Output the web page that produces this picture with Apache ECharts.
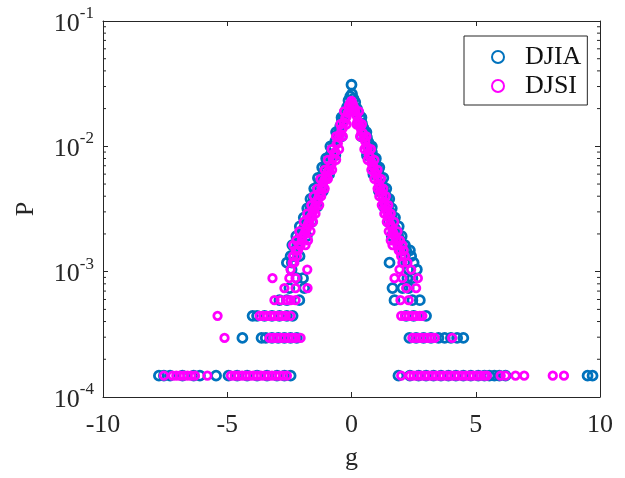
<!DOCTYPE html>
<html>
<head>
<meta charset="utf-8">
<script src="https://cdn.jsdelivr.net/npm/echarts@6/dist/echarts.min.js"></script>
<style>html,body{margin:0;padding:0;background:#fff}#chart{width:625px;height:478px}</style>
</head>
<body>
<div id="chart"></div>
<script>
// x tick labels and y tick exponents
const xTickLabels = ['-10', '-5', '0', '5', '10'];
const yTickExponents = ['-4', '-3', '-2', '-1'];
const minorTickValues = [2e-4,3e-4,4e-4,5e-4,6e-4,7e-4,8e-4,9e-4,2e-3,3e-3,4e-3,5e-3,6e-3,7e-3,8e-3,9e-3,2e-2,3e-2,4e-2,5e-2,6e-2,7e-2,8e-2,9e-2];

// DJIA: [g, P]
const djiaPoints = [
[0.00,0.0310],[0.02,0.0262],[-0.05,0.0250],[0.08,0.0240],[-0.12,0.0232],[0.15,0.0225],[-0.18,0.0205],[0.22,0.0200],[-0.25,0.0190],[0.28,0.0185],
[-0.32,0.0172],[0.35,0.0170],[-0.38,0.0160],[0.42,0.0152],[-0.45,0.0145],[0.48,0.0140],[-0.52,0.0128],[0.55,0.0128],[-0.58,0.0120],[0.62,0.0118],
[-0.65,0.0110],[0.68,0.0108],[-0.72,0.0100],[0.75,0.0098],[-0.78,0.0094],[0.82,0.0090],[-0.85,0.0085],[0.88,0.0082],[-0.92,0.0078],[0.95,0.0075],
[-0.98,0.0072],[1.02,0.0068],[-1.05,0.0067],[1.08,0.0062],[-1.12,0.0062],[1.15,0.0056],[-1.18,0.0058],[1.22,0.0050],[-1.25,0.0053],[1.28,0.0046],
[-1.32,0.0049],[1.35,0.0042],[-1.38,0.0045],[1.42,0.0038],[-1.45,0.0042],[1.48,0.0034],[-1.52,0.0038],[1.55,0.0030],[-1.58,0.0035],[1.62,0.0027],
[-1.65,0.0032],[1.68,0.0025],[-1.72,0.0029],[1.75,0.0022],[-1.78,0.0026],[1.82,0.0020],[-1.85,0.0024],[1.88,0.00192],[-1.92,0.0022],[1.95,0.00178],
[-1.98,0.00207],[2.02,0.00163],[-2.05,0.00192],[2.08,0.00148],[-2.12,0.00178],[2.15,0.00133],[-2.18,0.00163],[-2.25,0.00148],[-2.32,0.00133],[-2.40,0.00118],
[-0.40,0.0170],[-0.62,0.0130],[-0.85,0.0100],[-1.02,0.0080],[-1.18,0.0068],[-1.35,0.0056],[-1.50,0.0046],[-1.65,0.0038],[-1.78,0.0032],[-1.92,0.0027],
[-2.08,0.0023],[-2.22,0.00192],[-2.38,0.00163],
[-0.40,0.0120],[-0.65,0.0085],[-0.90,0.0060],[-1.15,0.0044],[-1.38,0.0033],[-1.60,0.0025],[-1.80,0.00192],
[0.40,0.0170],[0.60,0.0130],[0.82,0.0100],[0.98,0.0080],[1.12,0.0068],[1.28,0.0056],[1.40,0.0046],[1.52,0.0038],[1.62,0.0032],[1.75,0.0027],
[1.90,0.0023],[2.02,0.00192],[2.15,0.00163],
[0.40,0.0120],[0.62,0.0085],[0.88,0.0060],[1.10,0.0044],[1.30,0.0033],[1.48,0.0025],[1.62,0.00192],
[-2.09,0.00133],[-2.45,0.00133],[-2.60,0.00118],[-2.41,0.00104],[-2.20,0.000888],[-1.95,0.000888],[-2.50,0.00074],[-1.90,0.00074],
[-2.10,0.000592],[-2.60,0.000592],[-2.90,0.000592],
[-3.98,0.000444],[-3.80,0.000444],[-3.50,0.000444],[-3.20,0.000444],[-2.90,0.000444],[-2.60,0.000444],[-2.37,0.000444],
[-4.39,0.000296],[-3.62,0.000296],[-3.45,0.000296],[-3.20,0.000296],[-2.95,0.000296],[-2.70,0.000296],[-2.45,0.000296],[-2.20,0.000296],
[-7.75,0.000148],[-7.55,0.000148],[-7.30,0.000148],[-6.80,0.000148],[-6.35,0.000148],[-6.10,0.000148],[-5.45,0.000148],[-4.95,0.000148],
[-4.60,0.000148],[-4.20,0.000148],[-3.80,0.000148],[-3.40,0.000148],[-3.00,0.000148],[-2.70,0.000148],[-2.45,0.000148],
[2.20,0.00148],[2.35,0.00148],[2.10,0.00133],[2.40,0.00133],[1.53,0.00118],[2.20,0.00118],[2.50,0.00118],[2.30,0.00104],[2.63,0.00104],
[2.25,0.000888],[2.45,0.000888],[1.65,0.00074],[2.05,0.00074],[2.30,0.00074],[1.73,0.000592],[2.45,0.000592],[2.75,0.000592],
[2.20,0.000444],[2.50,0.000444],[3.00,0.000444],
[2.33,0.000296],[2.60,0.000296],[2.90,0.000296],[3.20,0.000296],[3.50,0.000296],[3.75,0.000296],[4.00,0.000296],[4.25,0.000296],[4.50,0.000296],
[1.89,0.000148],[2.35,0.000148],[2.70,0.000148],[3.00,0.000148],[3.30,0.000148],[3.60,0.000148],[3.90,0.000148],[4.20,0.000148],[4.50,0.000148],
[4.80,0.000148],[5.10,0.000148],[5.35,0.000148],[5.55,0.000148],[5.75,0.000148],[5.95,0.000148],[6.20,0.000148],[9.50,0.000148],[9.70,0.000148]
];

// DJSI: [g, P]
const djsiPoints = [
[0.00,0.0230],[0.05,0.0218],[-0.05,0.0221],[0.10,0.0205],[-0.10,0.0212],[0.15,0.0190],[-0.15,0.0185],[0.20,0.0176],[-0.20,0.0172],[0.25,0.0160],
[-0.25,0.0168],[0.30,0.0150],[-0.30,0.0155],[0.35,0.0142],[-0.35,0.0140],[0.40,0.0130],[-0.40,0.0138],[0.45,0.0128],[-0.45,0.0125],[0.50,0.0118],
[-0.50,0.0119],[0.55,0.0110],[-0.55,0.0106],[0.60,0.0100],[-0.60,0.0104],[0.65,0.0096],[-0.65,0.0090],[0.70,0.0085],[-0.70,0.0088],[0.75,0.0082],
[-0.75,0.0080],[0.80,0.0074],[-0.80,0.0072],[0.85,0.0070],[-0.85,0.0069],[0.90,0.0068],[-0.90,0.0064],[0.95,0.0062],[-0.95,0.0063],[1.00,0.0060],
[-1.00,0.0058],[1.05,0.0056],[-1.05,0.0055],[1.10,0.0050],[-1.10,0.0053],[1.15,0.0047],[-1.15,0.0049],[1.20,0.0043],[-1.20,0.0046],[1.25,0.0040],
[-1.25,0.0043],[1.30,0.0036],[-1.30,0.0041],[1.35,0.0034],[-1.35,0.0038],[1.40,0.0031],[-1.40,0.0036],[1.45,0.0029],[-1.45,0.0034],[1.50,0.0027],
[-1.50,0.0032],[1.55,0.0024],[-1.55,0.0030],[1.60,0.0023],[-1.60,0.0028],[1.65,0.0021],[-1.65,0.0027],[1.70,0.0020],[-1.70,0.0025],[1.75,0.0019],
[-1.75,0.0024],[1.80,0.00178],[-1.80,0.0022],[1.85,0.00163],[-1.85,0.0021],[1.90,0.00148],[-1.90,0.0020],[1.95,0.00148],[-1.95,0.00192],[2.00,0.00133],
[-2.00,0.00178],[2.05,0.00118],[-2.05,0.00163],[2.10,0.00148],[-2.10,0.00163],[-2.15,0.00148],[-2.20,0.00133],[-2.25,0.00148],[-2.30,0.00118],[-2.35,0.00133],
[-0.30,0.0190],[-0.45,0.0150],[-0.62,0.0120],[-0.80,0.0095],[-0.95,0.0078],[-1.08,0.0065],[-1.25,0.0055],[-1.38,0.0046],[-1.52,0.0040],[-1.62,0.0034],
[-1.78,0.0029],[-1.92,0.0025],[-2.10,0.0021],[-2.22,0.00178],[-2.35,0.00163],
[-0.05,0.0190],[-0.20,0.0150],[-0.35,0.0120],[-0.50,0.0095],[-0.62,0.0078],[-0.78,0.0065],[-0.95,0.0055],[-1.08,0.0046],[-1.22,0.0040],[-1.30,0.0034],
[-1.45,0.0029],[-1.55,0.0025],[-1.65,0.0021],[-1.75,0.00178],[-1.85,0.00163],
[0.30,0.0190],[0.42,0.0150],[0.60,0.0120],[0.78,0.0095],[0.92,0.0078],[1.05,0.0065],[1.18,0.0055],[1.28,0.0046],[1.38,0.0040],[1.48,0.0034],
[1.58,0.0029],[1.72,0.0025],[1.85,0.0021],[1.95,0.00178],[2.05,0.00163],
[0.08,0.0190],[0.20,0.0150],[0.35,0.0120],[0.52,0.0095],[0.65,0.0078],[0.80,0.0065],[0.92,0.0055],[1.05,0.0046],[1.12,0.0040],[1.22,0.0034],
[1.32,0.0029],[1.42,0.0025],[1.50,0.0021],[1.58,0.00178],[1.65,0.00163],
[-2.37,0.00118],[-2.45,0.00104],[-1.78,0.00104],[-3.18,0.000888],[-2.50,0.000888],[-2.25,0.000888],[-2.70,0.00074],[-2.25,0.00074],[-1.77,0.00074],
[-3.10,0.000592],[-2.85,0.000592],[-2.62,0.000592],[-2.45,0.000592],[-2.25,0.000592],
[-5.39,0.000444],[-3.70,0.000444],[-3.55,0.000444],[-3.40,0.000444],[-3.25,0.000444],[-3.10,0.000444],[-2.95,0.000444],[-2.80,0.000444],[-2.65,0.000444],[-2.45,0.000444],
[-5.11,0.000296],[-3.30,0.000296],[-3.15,0.000296],[-3.00,0.000296],[-2.85,0.000296],[-2.70,0.000296],[-2.55,0.000296],[-2.40,0.000296],[-2.25,0.000296],[-2.05,0.000296],
[-7.55,0.000148],[-7.20,0.000148],[-7.05,0.000148],[-6.90,0.000148],[-6.75,0.000148],[-6.60,0.000148],[-6.45,0.000148],[-6.30,0.000148],[-5.80,0.000148],
[-4.85,0.000148],[-4.70,0.000148],[-4.55,0.000148],[-4.40,0.000148],[-4.25,0.000148],[-4.10,0.000148],[-3.95,0.000148],[-3.80,0.000148],[-3.65,0.000148],
[-3.50,0.000148],[-3.35,0.000148],[-3.20,0.000148],[-3.05,0.000148],[-2.90,0.000148],[-2.75,0.000148],[-2.60,0.000148],
[2.15,0.00133],[2.25,0.00118],[1.93,0.00104],[2.40,0.00104],[1.73,0.000888],[2.05,0.000888],[2.67,0.000888],[2.20,0.00074],[2.60,0.00074],
[1.97,0.000592],[2.30,0.000592],
[2.00,0.000444],[2.15,0.000444],[2.30,0.000444],[2.45,0.000444],[2.60,0.000444],[2.75,0.000444],[2.85,0.000444],
[2.45,0.000296],[2.60,0.000296],[2.75,0.000296],[2.90,0.000296],[3.05,0.000296],[3.20,0.000296],[3.35,0.000296],[4.05,0.000296],
[2.00,0.000148],[2.35,0.000148],[2.50,0.000148],[2.65,0.000148],[2.80,0.000148],[2.95,0.000148],[3.10,0.000148],[3.25,0.000148],[3.40,0.000148],
[3.55,0.000148],[3.70,0.000148],[3.85,0.000148],[4.00,0.000148],[4.15,0.000148],[4.30,0.000148],[4.45,0.000148],[4.60,0.000148],[4.75,0.000148],
[4.90,0.000148],[5.05,0.000148],[5.20,0.000148],[5.35,0.000148],[5.45,0.000148],[6.00,0.000148],[6.20,0.000148],[6.60,0.000148],[6.95,0.000148],
[8.10,0.000148],[8.55,0.000148]
];

const FONT = '"Liberation Serif", "Times New Roman", serif';
const AX = '#262626';
const chart = echarts.init(document.getElementById('chart'), null, {renderer: 'canvas'});

const yFormatter = v => {
  const e = yTickExponents[Math.round(Math.log10(v)) + 4];
  return '{b|10}{s|' + e + '}';
};
const xFormatter = v => xTickLabels[Math.round((v + 10) / 5)];

chart.setOption({
  animation: false,
  backgroundColor: '#fff',
  grid: {left: 103, right: 25, top: 21, bottom: 81, containLabel: false},
  legend: {
    data: ['DJIA', 'DJSI'],
    orient: 'vertical',
    left: 464, top: 36,
    padding: [8, 6, 6, 27],
    itemGap: 3,
    itemWidth: 12, itemHeight: 12,
    icon: 'circle',
    backgroundColor: '#fff',
    borderColor: AX, borderWidth: 1,
    textStyle: {fontFamily: FONT, fontSize: 26, lineHeight: 26, color: '#111', padding: [0, 0, 0, 16]}
  },
  xAxis: [{
    type: 'value', min: -10, max: 10, interval: 5,
    name: 'g', nameLocation: 'middle', nameGap: 48,
    nameTextStyle: {fontFamily: FONT, fontSize: 26, color: AX},
    axisLine: {show: true, onZero: false, lineStyle: {color: AX, width: 1}},
    axisTick: {show: true, inside: true, length: 5, lineStyle: {color: AX}},
    axisLabel: {fontFamily: FONT, fontSize: 26, color: AX, margin: 15, formatter: xFormatter},
    splitLine: {show: false}
  }, {
    type: 'value', min: -10, max: 10, interval: 5, position: 'top',
    axisLine: {show: true, onZero: false, lineStyle: {color: AX, width: 1}},
    axisTick: {show: true, inside: true, length: 5, lineStyle: {color: AX}},
    axisLabel: {show: false}, splitLine: {show: false}
  }],
  yAxis: [{
    type: 'log', logBase: 10, min: 1e-4, max: 1e-1,
    name: 'P', nameLocation: 'middle', nameGap: 64,
    nameTextStyle: {fontFamily: FONT, fontSize: 26, color: AX},
    axisLine: {show: true, onZero: false, lineStyle: {color: AX, width: 1}},
    axisTick: {show: true, inside: true, length: 5, lineStyle: {color: AX}},
    axisLabel: {
      margin: 9, formatter: yFormatter,
      rich: {
        b: {fontFamily: FONT, fontSize: 26, color: AX, verticalAlign: 'bottom', lineHeight: 32},
        s: {fontFamily: FONT, fontSize: 17, color: AX, verticalAlign: 'top', lineHeight: 17}
      }
    },
    splitLine: {show: false}
  }, {
    type: 'log', logBase: 10, min: 1e-4, max: 1e-1, position: 'right',
    axisLine: {show: true, onZero: false, lineStyle: {color: AX, width: 1}},
    axisTick: {show: true, inside: true, length: 5, lineStyle: {color: AX}},
    axisLabel: {show: false}, splitLine: {show: false}
  }],
  series: [{
    name: 'DJIA', type: 'scatter', data: djiaPoints,
    symbol: 'circle', symbolSize: 9,
    itemStyle: {color: 'rgba(255,255,255,0)', borderColor: '#0072BD', borderWidth: 2.8, opacity: 1}
  }, {
    name: 'DJSI', type: 'scatter', data: djsiPoints,
    symbol: 'circle', symbolSize: 7.5,
    itemStyle: {color: 'rgba(255,255,255,0)', borderColor: '#FF00FF', borderWidth: 2.8, opacity: 1}
  }, {
    name: 'minorTicks', type: 'custom', silent: true, clip: false,
    data: minorTickValues.map(v => [-10, v]),
    renderItem: (params, api) => {
      const v = api.value(1);
      const pl = api.coord([-10, v]);
      const pr = api.coord([10, v]);
      return {type: 'group', children: [
        {type: 'line', shape: {x1: pl[0], y1: pl[1], x2: pl[0] + 3, y2: pl[1]}, style: {stroke: AX, lineWidth: 1}},
        {type: 'line', shape: {x1: pr[0], y1: pr[1], x2: pr[0] - 3, y2: pr[1]}, style: {stroke: AX, lineWidth: 1}}
      ]};
    }
  }]
});
</script>
</body>
</html>
